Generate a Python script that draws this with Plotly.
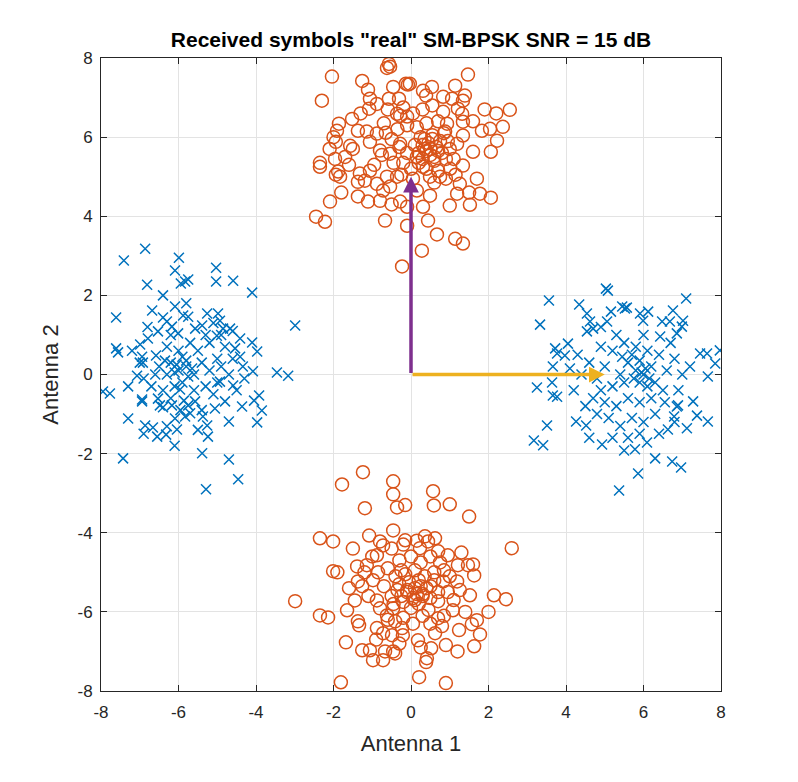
import plotly.graph_objects as go

# ---- data ----
top_x = [-0.57,-0.62,-0.54,-2.04,-1.26,-1.11,-2.3,-1.06,-0.88,-1.08,-0.46,-0.57,-0.31,-0.13,-0.08,-1.52,-1.86,-1.91,-1.37,-1.14,-0.88,-0.65,-1.94,-1.57,-1.5,-1.06,-2.35,-1.96,-1.7,
         -0.36,-0.28,-0.1,-0.8,-0.54,-0.28,
         1.47,1.14,2.55,0.54,0.31,0.39,0.83,1.06,1.39,1.34,0.83,1.21,1.32,1.34,0.93,0.88,1.83,2.04,2.37,2.22,2.06,1.6,1.34,1.19,-0.03,
         -2.35,-1.88,-1.83,-1.94,-2.09,-2.45,-2.22,-1.37,-1.11,-0.8,-0.67,-0.23,-0.1,-0.28,-0.1,-1.32,-1.19,-1.06,-0.88,-0.72,-0.54,-0.36,-0.62,-1.37,
         1.7,1.26,1.19,1.78,2.06,1.52,1.0,0.67,1.14,1.34,0.28,0.44,0.31,0.49,0.15,0.49,0.75,1.01,1.34,0.31,
         0.2,0.35,0.5,0.65,0.8,0.3,0.45,0.6,0.75,0.9,0.1,0.25,0.55,0.85,1.0,-0.1,-0.2,0.0,0.4,0.7,1.1,-0.35,-0.1,0.15,0.4,0.7,-0.5,-0.7,-0.45,-0.75,-0.95,-0.25,0.05,0.6,0.9,1.15,-0.6,-0.2,0.05,0.3,0.55,-1.3,-1.6,-2.1,-2.0,1.6,1.9,2.2,1.5,-0.5,-1.8,0.35,0.5,0.2,
         0.4,0.6,0.3,0.7,0.55,0.15,-0.3,0.95]
top_y = [7.85,7.75,7.78,7.53,7.42,7.2,6.92,6.97,6.84,6.72,7.27,6.97,6.97,7.35,7.33,6.46,6.34,6.16,6.16,6.14,6.09,6.11,5.88,5.78,5.7,5.88,5.35,5.45,5.5,
         6.59,6.54,6.52,5.66,5.58,5.83,
         7.58,7.3,6.69,7.27,7.17,7.05,7.02,6.97,7.05,6.92,6.64,6.72,6.59,6.39,6.34,6.14,6.16,6.21,6.26,5.91,5.63,5.63,6.04,5.83,7.35,
         5.25,5.13,5.0,5.05,4.37,3.99,3.86,4.5,4.37,4.39,3.89,2.73,3.76,4.37,4.24,5.08,4.9,5.15,4.82,4.65,4.75,5.0,5.0,4.87,
         4.95,4.82,4.57,4.57,4.47,4.29,4.27,3.54,3.43,3.31,3.13,3.89,4.24,4.52,4.65,5.0,5.0,5.2,5.28,5.25,
         5.6,5.7,5.55,5.75,5.6,5.45,5.85,5.4,5.9,5.45,5.8,6.0,6.05,6.1,5.7,5.6,5.35,5.2,5.2,5.15,5.45,6.2,6.3,6.25,6.35,6.4,5.95,6.35,5.35,5.55,5.3,5.05,4.95,4.85,4.95,5.05,6.7,6.75,6.6,6.7,6.8,6.6,5.3,5.7,6.0,6.4,6.7,6.6,4.6,4.3,4.6,5.95,5.7,5.35,
         5.65,5.5,5.8,5.65,5.95,5.5,5.75,5.9]

bot_x = [-1.24,-1.78,-1.19,-2.35,-2.01,-1.08,-0.8,-0.72,-0.46,-0.46,-0.36,-0.46,-2.01,-1.39,-1.14,-0.88,
         0.57,0.59,1.0,1.5,-0.15,2.6,-0.15,0.36,0.62,0.44,0.23,0.7,0.95,1.21,1.47,
         -2.99,-2.35,-2.14,-1.37,-1.26,-1.65,-1.45,-1.37,-1.34,-1.68,-1.26,-1.06,-0.98,-0.72,-0.67,-1.81,-0.98,-0.88,-0.8,-0.62,-0.88,-0.72,-0.46,-0.41,-0.49,-0.46,
         2.14,2.45,1.63,1.52,1.26,1.08,1.7,1.57,1.78,1.24,1.63,0.9,0.52,0.41,0.39,0.21,0.9,0.83,1.19,0.7,0.7,0.8,0.62,0.18,-0.21,-0.23,-0.41,
         -0.3,-0.1,0.1,0.3,0.5,0.7,-0.5,-0.2,0.0,0.2,0.45,-0.4,-0.15,0.1,0.35,0.6,0.85,-0.6,-0.3,0.0,0.25,0.5,0.75,1.0,0.95,1.1,-0.7,-0.85,-1.1,-1.2,-0.6,-0.2,0.05,0.3,0.5,0.85,-0.05,0.2,0.15,-0.35,0.4,-0.5,-0.2,0.15,-1.0,-1.5,-1.6,-1.9,1.3,1.6,1.4,2.0,-0.9,0.25,-0.3,1.2,0.6,-0.45,0.05,0.25,-0.25,
         -0.1,0.3,0.5,-0.25,0.1]
bot_y = [-2.47,-2.78,-3.38,-4.14,-4.22,-4.07,-4.22,-4.32,-2.7,-3.03,-3.36,-3.94,-4.97,-4.85,-4.82,-4.57,
         -2.95,-3.31,-3.28,-3.59,-3.3,-4.39,-4.19,-4.09,-4.14,-4.22,-4.39,-4.47,-4.57,-4.82,-4.82,
         -5.73,-6.09,-6.14,-5.23,-5.35,-5.96,-5.71,-6.24,-6.34,-6.77,-6.97,-6.97,-7.22,-7.22,-7.0,-7.78,-5.2,-5.71,-5.91,-6.09,-6.41,-6.54,-5.91,-6.24,-6.59,-7.0,
         -5.58,-5.68,-5.08,-5.58,-5.45,-5.96,-6.21,-6.31,-6.57,-6.46,-6.87,-6.84,-6.92,-7.17,-7.27,-7.65,-7.8,-5.23,-5.23,-5.73,-6.16,-6.36,-6.54,-6.72,-6.59,-6.41,-7.05,
         -5.3,-5.5,-5.4,-5.6,-5.35,-5.5,-5.6,-5.75,-5.9,-5.8,-5.95,-5.1,-5.05,-4.95,-5.1,-5.0,-4.95,-4.9,-4.7,-4.6,-4.75,-4.6,-4.75,-5.1,-5.5,-5.7,-5.35,-5.0,-5.6,-5.0,-6.2,-6.15,-6.3,-6.1,-6.3,-6.1,-5.25,-5.2,-5.55,-5.45,-5.4,-4.4,-4.3,-4.2,-4.6,-4.4,-5.4,-5.0,-4.5,-4.8,-6.0,-6.0,-6.7,-6.9,-6.8,-7.0,-5.2,-5.8,-5.65,-5.35,-4.95,
         -5.45,-5.55,-5.65,-5.6,-5.7]

left_x = [-6.86,-7.41,-5.99,-6.09,-6.81,-5.94,-5.83,-5.75,-7.61,-6.68,-6.09,-6.4,-6.3,-5.88,-5.75,-7.61,-7.56,-6.99,-6.79,-6.53,-6.17,-6.01,-5.57,-5.39,-6.94,-6.92,-6.58,
          -5.03,-5.03,-4.59,-4.1,-2.99,-3.46,-3.17,-4.1,-3.97,-4.08,-4.34,-3.92,-4.05,-3.85,-3.97,-4.36,-4.7,-4.7,-4.46,-5.29,-5.39,
          -5.26,-4.98,-4.93,-5.01,-4.85,-4.67,-4.41,-4.54,-4.41,-4.59,-4.93,-4.8,-5.06,-5.37,-5.26,-5.24,
          -7.95,-7.77,-7.3,-7.07,-6.94,-6.94,-7.3,-7.43,-6.86,-6.66,-6.55,-6.32,-6.3,-6.09,-6.04,-6.48,-6.4,-6.17,-6.53,-5.96,-5.86,-5.75,-5.7,-5.83,-5.57,
          -6.2,-6.0,-5.8,-5.6,-5.9,-6.1,-6.3,-6.5,-5.4,-5.2,-5.0,-5.3,-5.1,-4.9,-4.8,-5.5,-5.7,-6.0,-6.3,-6.6,-6.7,-6.4,-6.2,-5.6,-5.4,-5.0,-4.7,-4.6,-5.2,-5.9,-6.1,-5.75,-6.35,-5.3,-4.9,-6.8,-5.1,-6.2,-7.0,-7.2,-6.9,-5.95,-4.5,-4.3,-4.6,-5.8,-6.4,-5.5,-6.1,-6.9,-5.8,-6.05,-5.65]
left_y = [3.18,2.88,2.95,2.63,2.27,2.3,2.35,2.4,1.44,1.62,1.72,1.44,1.34,1.49,1.46,0.66,0.56,0.76,0.91,1.09,1.21,1.04,1.16,1.24,0.45,0.3,0.48,
          2.7,2.35,2.37,2.07,1.24,0.05,-0.03,0.81,0.58,0.08,0.2,-0.53,-0.66,-0.91,-1.21,-0.81,-1.19,-2.15,-2.65,-2.9,-1.99,
          1.54,1.54,1.36,0.98,1.16,1.16,0.91,0.66,0.45,-0.28,-0.18,-0.68,-0.86,-1.06,-1.29,-1.57,
          -0.43,-0.48,-0.3,-0.03,-0.63,-0.68,-1.11,-2.12,-1.29,-1.34,-1.57,-1.52,-1.31,-1.11,-1.39,-0.78,-0.83,-0.78,-0.61,-0.38,-0.66,-0.78,-0.98,-1.06,-0.68,
          0.3,0.1,0.2,0.0,-0.2,-0.3,0.0,0.2,0.3,0.1,0.4,-0.3,-0.5,0.2,0.7,0.6,0.8,0.6,0.7,0.0,-0.3,-0.4,-0.6,-0.4,-0.9,-0.2,0.0,0.4,0.8,0.45,0.05,-0.05,0.35,1.0,1.0,1.2,1.3,1.0,0.3,0.6,-0.1,-0.9,-0.4,-0.1,1.1,1.8,2.0,-1.4,-1.8,-1.5,0.35,0.25,0.15]

right_x = [5.03,5.08,3.56,4.34,7.1,3.33,4.54,4.62,4.54,4.7,5.06,5.16,5.45,5.52,5.57,
           5.91,6.12,5.99,6.48,6.68,6.76,7.02,6.99,6.86,6.43,
           7.97,7.85,7.66,7.46,7.64,7.28,7.12,7.66,7.38,6.89,6.86,6.63,6.79,
           3.51,3.17,3.41,3.25,3.66,3.66,3.77,3.64,3.72,3.77,4.05,3.97,4.1,
           4.26,4.52,4.93,5.5,5.78,6.09,6.3,6.74,6.97,5.86,5.37,
           5.8,6.0,6.2,5.9,6.1,5.6,5.4,5.2,5.0,4.8,4.6,4.7,5.0,5.3,5.6,5.9,6.2,6.5,6.6,6.4,6.1,5.8,5.5,5.2,4.9,6.8,7.0,6.9,6.3,6.0,5.7,5.4,5.1,4.8,4.5,4.4,4.3,4.2,6.7,6.0,5.3,4.9,5.9,6.05,5.75,6.15,5.95,5.5,5.7,6.3,5.6,5.9,6.4,5.2,4.6,6.8,7.2,5.45,6.55,4.9]
right_y = [2.17,2.12,1.87,1.77,1.92,1.26,1.54,1.34,1.09,1.16,1.34,1.59,1.72,1.67,1.69,
           1.54,1.59,1.36,1.34,1.34,1.62,1.36,1.21,1.04,0.96,
           0.61,0.28,-0.05,0.53,0.53,-0.68,-1.36,-1.19,-1.04,-0.78,-0.81,-1.39,-1.06,
           -1.29,-1.67,-1.79,-0.33,0.2,-0.53,-0.56,-0.2,0.66,0.53,0.78,0.48,0.15,
           -1.19,-1.29,-1.77,-1.92,-1.89,-1.72,-2.12,-2.2,-2.35,-2.5,-2.93,
           0.1,0.0,0.2,-0.2,-0.3,0.3,0.0,-0.3,0.2,-0.1,0.3,-0.6,-0.7,-0.8,-0.6,-0.7,-0.6,-0.4,0.1,0.5,0.6,0.7,0.8,0.6,0.7,0.4,0.0,-0.4,-1.0,-1.2,-1.1,-1.3,-1.1,-1.0,-0.8,0.0,0.5,-0.4,0.8,1.0,1.0,1.2,0.35,0.15,-0.1,-0.1,0.05,-0.2,0.5,-0.2,-1.6,-1.5,-1.5,-1.6,-1.6,-1.2,0.2,0.45,-0.7,-0.4]

# basis vectors drawn as arrows (end points)
arrow_x = [0, 5]
arrow_y = [5, 0]
arrow_colors = ["#7E2F8E", "#EDB120"]

tick_vals = [-8, -6, -4, -2, 0, 2, 4, 6, 8]
tick_text = ["-8", "-6", "-4", "-2", "0", "2", "4", "6", "8"]

BLUE = "#0072BD"
ORANGE = "#D95319"
FONT = "Liberation Sans, Arial, Helvetica, sans-serif"

fig = go.Figure()
fig.add_trace(go.Scatter(x=left_x + right_x, y=left_y + right_y, mode="markers",
                         marker=dict(symbol="x-thin", size=10, line=dict(color=BLUE, width=1.5), color=BLUE),
                         showlegend=False, hoverinfo="skip"))
fig.add_trace(go.Scatter(x=top_x + bot_x, y=top_y + bot_y, mode="markers",
                         marker=dict(symbol="circle-open", size=13, line=dict(color=ORANGE, width=1.5), color=ORANGE),
                         showlegend=False, hoverinfo="skip"))

for ex, ey, c in zip(arrow_x, arrow_y, arrow_colors):
    fig.add_annotation(x=ex, y=ey, ax=0, ay=0, xref="x", yref="y", axref="x", ayref="y",
                       showarrow=True, arrowhead=2, arrowsize=0.9, arrowwidth=3.5,
                       arrowcolor=c, text="", standoff=0)

axis_common = dict(range=[-8, 8], tickvals=tick_vals, ticktext=tick_text,
                   showgrid=True, gridcolor="#E3E3E3", gridwidth=1, zeroline=False,
                   showline=True, linecolor="#262626", linewidth=1, mirror="ticks",
                   ticks="inside", ticklen=6, tickcolor="#262626",
                   tickfont=dict(family=FONT, size=17, color="#262626"))

fig.update_layout(
    width=798, height=782,
    margin=dict(l=101, r=77, t=58, b=91),
    paper_bgcolor="white", plot_bgcolor="white",
    title=dict(text='<b>Received symbols "real" SM-BPSK SNR = 15 dB</b>',
               x=411 / 798, xanchor="center", y=1 - 40 / 782, yanchor="middle",
               font=dict(family=FONT, size=21, color="#000000")),
    xaxis=dict(axis_common, ticklabelstandoff=6,
               title=dict(text="Antenna 1", standoff=14,
                          font=dict(family=FONT, size=22, color="#262626"))),
    yaxis=dict(axis_common, ticklabelstandoff=4,
               title=dict(text="Antenna 2", standoff=12,
                          font=dict(family=FONT, size=22, color="#262626"))),
)

fig.write_html("out.html")
